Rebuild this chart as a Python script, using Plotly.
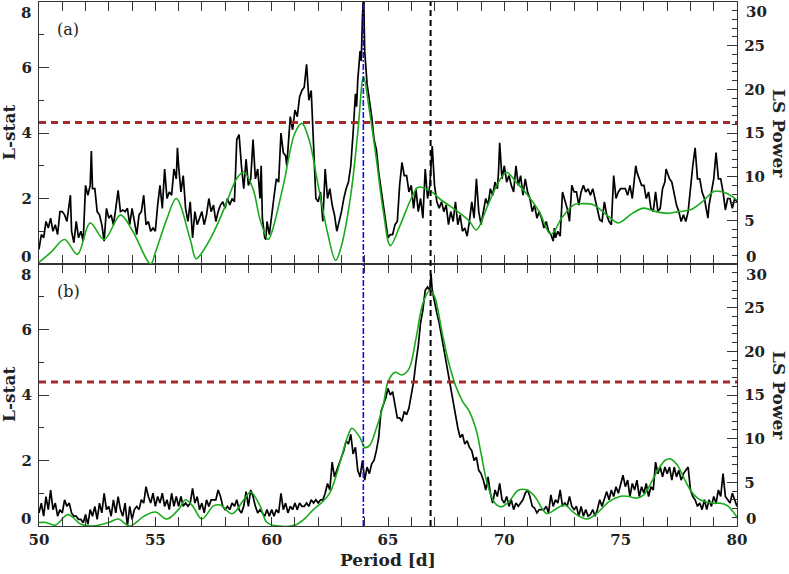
import plotly.graph_objects as go

# ---------------- data ----------------
period_a = [50.0,50.1,50.2,50.3,50.4,50.5,50.6,50.7,50.8,50.9,51.0,51.1,51.2,51.35,51.4,51.5,51.6,51.7,51.8,51.9,
            52.0,52.1,52.2,52.25,52.3,52.4,52.5,52.6,52.7,52.8,52.9,53.0,53.1,53.2,53.3,53.4,53.5,53.6,53.7,53.8,53.9,
            54.0,54.1,54.2,54.3,54.4,54.5,54.6,54.7,54.8,54.9,55.0,55.1,55.2,55.3,55.4,55.5,55.6,55.7,55.8,55.9,55.95,
            56.0,56.1,56.2,56.3,56.4,56.5,56.6,56.7,56.8,56.9,57.0,57.1,57.2,57.3,57.4,57.5,57.6,57.7,57.8,57.9,
            58.0,58.1,58.2,58.3,58.4,58.5,58.6,58.7,58.8,58.9,59.0,59.1,59.2,59.3,59.4,59.5,59.55,59.6,59.7,59.75,59.8,59.9,
            60.0,60.1,60.2,60.3,60.4,60.5,60.6,60.65,60.7,60.8,60.9,61.0,61.1,61.2,61.3,61.4,61.5,61.6,61.7,61.75,61.8,61.9,
            62.0,62.1,62.2,62.3,62.4,62.5,62.6,62.7,62.8,62.9,63.0,63.1,63.2,63.3,63.4,63.5,63.6,63.65,63.7,63.8,63.85,63.9,63.95,
            64.0,64.05,64.1,64.2,64.3,64.4,64.5,64.6,64.7,64.8,64.9,65.0,65.1,65.2,65.3,65.4,65.5,65.6,65.7,65.8,65.9,
            66.0,66.1,66.2,66.3,66.4,66.5,66.6,66.7,66.8,66.9,67.0,67.1,67.2,67.3,67.4,67.5,67.6,67.7,67.8,67.9,
            68.0,68.1,68.2,68.3,68.4,68.5,68.6,68.7,68.8,68.9,69.0,69.1,69.2,69.3,69.4,69.5,69.6,69.7,69.75,69.8,69.9,
            70.0,70.1,70.2,70.3,70.4,70.5,70.6,70.7,70.8,70.9,71.0,71.1,71.2,71.3,71.4,71.5,71.6,71.7,71.8,71.9,
            72.0,72.1,72.15,72.2,72.3,72.4,72.5,72.6,72.7,72.8,72.9,73.0,73.1,73.2,73.3,73.4,73.5,73.6,73.7,73.8,73.9,
            74.0,74.1,74.2,74.3,74.4,74.5,74.6,74.7,74.8,74.9,75.0,75.1,75.2,75.3,75.4,75.5,75.6,75.65,75.7,75.8,75.9,
            76.0,76.1,76.2,76.3,76.4,76.5,76.6,76.7,76.8,76.9,76.95,77.0,77.1,77.2,77.3,77.4,77.5,77.6,77.7,77.8,77.9,
            78.0,78.1,78.2,78.3,78.4,78.5,78.6,78.7,78.75,78.8,78.9,79.0,79.1,79.2,79.3,79.4,79.5,79.6,79.7,79.8,79.9,80.0]
lstat_a = [0.45,0.9,0.8,1.3,1.1,1.4,1.0,1.2,0.9,1.6,1.6,1.5,1.3,2.1,1.0,0.65,1.3,0.8,1.0,0.7,
           2.4,2.1,2.4,3.45,2.3,2.3,1.6,1.5,1.2,0.7,1.7,1.4,1.5,1.2,1.7,2.25,1.6,1.65,1.6,1.7,1.2,
           1.7,1.3,0.9,1.5,1.6,2.1,1.2,1.3,1.0,1.1,1.0,1.8,2.4,1.7,2.9,2.0,2.2,2.1,2.9,2.6,3.55,
           3.0,2.2,2.7,1.7,1.3,1.9,0.8,1.6,1.2,1.4,1.6,1.2,1.5,2.0,1.6,1.8,1.3,1.6,1.8,1.9,
           1.7,2.0,1.8,2.0,1.9,3.8,3.95,3.0,2.3,3.2,2.4,2.6,3.8,2.6,2.9,2.0,3.0,1.4,0.8,0.75,1.3,0.9,
           1.55,2.05,2.6,2.5,4.0,3.4,3.3,3.0,3.5,4.5,4.1,4.7,4.5,5.1,5.3,5.4,6.1,5.0,5.3,4.5,3.2,2.0,
           1.9,2.2,1.3,2.9,2.0,2.3,1.8,1.5,1.0,1.3,1.6,2.0,2.3,2.5,3.0,4.0,5.2,4.8,5.6,6.5,6.2,7.5,8.3,
           6.5,5.8,5.5,5.0,4.5,3.8,3.5,2.8,2.3,1.8,1.3,0.8,0.9,0.9,1.2,1.3,2.4,3.1,2.7,2.7,2.2,
           2.4,1.7,2.3,1.6,2.0,1.4,2.9,2.0,2.4,3.6,2.4,1.9,1.7,1.9,1.6,1.8,1.2,1.6,1.3,1.9,
           1.2,1.5,1.0,1.1,0.85,1.3,1.9,1.4,2.6,1.6,1.2,1.6,2.0,1.8,2.3,2.1,2.5,2.3,2.8,3.7,2.6,
           3.0,2.5,2.7,2.4,2.2,3.0,2.4,2.7,2.1,2.6,2.2,2.0,1.6,1.8,1.4,1.6,1.4,1.1,1.3,1.0,
           0.9,0.7,1.1,0.8,1.0,0.85,2.2,1.9,1.7,1.3,2.4,2.2,2.2,1.8,2.2,2.4,2.2,2.3,2.1,2.3,2.0,
           1.6,1.35,1.3,1.9,1.5,1.3,1.2,2.7,2.0,2.2,2.3,2.3,2.3,2.1,2.4,2.0,2.8,3.0,2.8,2.6,2.4,
           2.4,2.0,2.2,1.7,1.6,2.2,1.6,1.7,2.3,2.5,2.9,2.8,2.6,2.5,2.1,1.8,1.6,1.3,1.5,1.3,1.6,
           2.4,3.0,3.55,2.6,2.6,2.2,2.0,1.5,1.4,1.8,2.2,2.6,3.4,2.6,2.6,2.2,1.65,2.0,2.0,1.7,2.0,1.9]

period_ls_a = [50.0,50.5,51.1,51.65,52.2,52.8,53.5,54.0,54.8,55.0,55.5,55.9,56.5,56.75,57.0,57.5,58.0,58.5,58.8,59.2,
               59.5,59.85,60.0,60.5,61.0,61.3,61.6,62.0,62.4,62.75,63.0,63.4,63.7,63.95,64.2,64.5,64.8,65.1,65.5,
               66.0,66.3,66.8,67.3,68.0,68.5,68.8,69.3,69.8,70.1,70.5,71.0,71.5,72.0,72.5,73.0,73.3,73.8,74.5,74.9,
               75.5,76.0,76.5,77.0,77.5,78.0,78.5,79.0,79.3,79.7,80.0]
ls_power_a = [0.2,1.3,2.8,1.1,4.7,2.8,5.6,3.9,0.0,1.3,5.2,7.5,2.8,0.6,1.3,3.6,6.6,9.8,10.5,8.6,
              5.1,2.8,3.6,9.0,15.0,16.1,14.3,9.0,3.6,0.4,2.1,7.9,15.0,21.4,17.6,12.0,6.0,2.1,4.3,
              7.5,8.8,8.4,7.3,6.0,4.9,3.9,6.8,9.6,10.5,9.4,7.9,6.0,3.4,5.4,6.8,6.9,6.8,5.4,4.7,
              5.8,6.4,6.0,5.8,6.0,6.2,7.1,8.3,8.3,7.9,7.3]

period_b = [50.0,50.1,50.2,50.3,50.4,50.5,50.6,50.7,50.8,50.9,51.0,51.1,51.2,51.3,51.4,51.5,51.6,51.7,51.8,51.9,
            52.0,52.1,52.2,52.3,52.4,52.5,52.6,52.7,52.8,52.9,53.0,53.1,53.2,53.3,53.4,53.5,53.6,53.7,53.8,53.9,
            54.0,54.1,54.2,54.3,54.4,54.5,54.6,54.7,54.8,54.9,55.0,55.1,55.2,55.3,55.4,55.5,55.6,55.7,55.8,55.9,
            56.0,56.1,56.2,56.3,56.4,56.5,56.6,56.7,56.8,56.9,57.0,57.1,57.2,57.3,57.4,57.5,57.6,57.7,57.8,57.9,
            58.0,58.1,58.2,58.3,58.4,58.5,58.6,58.7,58.8,58.9,59.0,59.1,59.2,59.3,59.4,59.5,59.6,59.7,59.8,59.9,
            60.0,60.1,60.2,60.3,60.4,60.5,60.6,60.7,60.8,60.9,61.0,61.1,61.2,61.3,61.4,61.5,61.6,61.7,61.8,61.9,
            62.0,62.1,62.2,62.3,62.4,62.5,62.6,62.7,62.8,62.9,63.0,63.1,63.2,63.3,63.4,63.5,63.6,63.7,63.8,63.9,
            64.0,64.1,64.2,64.3,64.4,64.5,64.6,64.7,64.8,64.9,65.0,65.1,65.2,65.3,65.4,65.5,65.6,65.7,65.8,65.9,
            66.0,66.1,66.2,66.3,66.4,66.5,66.6,66.7,66.8,66.85,66.9,67.0,67.1,67.2,67.3,67.4,67.5,67.6,67.7,67.8,67.9,
            68.0,68.1,68.2,68.3,68.4,68.5,68.6,68.7,68.8,68.9,69.0,69.1,69.2,69.3,69.4,69.5,69.6,69.7,69.8,69.9,
            70.0,70.1,70.2,70.3,70.4,70.5,70.6,70.7,70.8,70.9,71.0,71.1,71.2,71.3,71.4,71.5,71.6,71.7,71.8,71.9,
            72.0,72.1,72.2,72.3,72.4,72.5,72.6,72.7,72.8,72.9,73.0,73.1,73.2,73.3,73.4,73.5,73.6,73.7,73.8,73.9,
            74.0,74.1,74.2,74.3,74.4,74.5,74.6,74.7,74.8,74.9,75.0,75.1,75.2,75.3,75.4,75.5,75.6,75.7,75.8,75.9,
            76.0,76.1,76.2,76.3,76.4,76.5,76.6,76.7,76.8,76.9,77.0,77.1,77.2,77.3,77.4,77.5,77.6,77.7,77.8,77.9,
            78.0,78.1,78.2,78.3,78.4,78.5,78.6,78.7,78.8,78.9,79.0,79.1,79.2,79.3,79.4,79.5,79.6,79.7,79.8,79.9,80.0]
lstat_b = [0.4,0.7,0.3,0.9,0.5,1.1,0.5,0.7,0.3,0.5,0.4,0.8,0.6,0.7,0.4,0.3,0.3,0.2,0.2,0.1,
           0.35,0.05,0.5,0.3,0.6,0.2,0.7,0.4,1.0,0.5,0.6,0.3,0.8,0.4,0.9,0.5,0.3,0.7,0.0,0.6,
           0.2,0.5,0.6,0.5,0.8,0.7,1.2,0.9,0.7,1.0,0.6,0.9,0.7,1.0,0.6,0.8,0.5,1.0,0.6,0.9,
           0.6,0.9,0.6,0.7,0.6,0.7,1.15,0.7,0.9,0.5,0.7,0.4,0.8,0.6,0.8,0.8,0.8,1.1,0.9,0.6,
           0.5,0.6,0.5,0.7,0.6,0.8,0.5,0.4,0.6,1.05,0.6,1.1,0.9,0.6,0.4,0.5,0.4,0.3,0.5,0.3,
           0.5,0.3,0.5,0.4,1.0,0.5,0.7,0.4,0.6,0.5,0.7,0.5,0.7,0.6,0.6,0.7,0.6,0.8,0.7,0.8,
           0.7,0.8,0.8,1.0,1.3,1.1,1.95,1.5,1.7,1.9,2.1,2.3,2.6,2.5,2.8,2.2,2.4,1.7,1.5,2.0,
           1.4,1.8,1.6,1.9,2.0,2.3,2.7,3.5,3.7,3.9,4.2,4.0,4.1,3.7,3.3,3.3,3.2,3.5,3.4,3.6,
           4.0,4.4,5.0,5.5,6.2,6.6,7.2,7.3,7.2,7.7,7.2,6.8,6.5,6.2,5.8,5.3,5.0,4.6,4.2,3.7,3.3,
           3.0,2.7,2.8,2.5,2.6,2.4,2.3,2.0,2.1,1.7,1.6,1.4,1.1,1.5,1.0,0.7,1.1,0.9,1.3,0.8,
           0.7,0.9,0.6,0.8,0.5,0.7,0.6,0.7,0.8,1.0,1.1,0.9,0.6,0.55,0.4,0.5,0.5,0.5,0.6,0.4,
           0.95,0.6,0.8,0.7,1.1,0.6,0.7,0.6,0.9,0.6,0.5,0.6,0.3,0.6,0.3,0.5,0.3,0.35,0.5,0.3,
           0.5,0.8,0.6,0.8,1.05,0.8,1.1,0.9,1.2,1.0,1.3,1.55,1.2,1.4,0.9,1.3,1.1,1.4,0.9,1.2,
           1.0,1.3,0.9,1.2,1.1,1.95,1.6,1.8,1.5,1.8,1.6,1.8,1.4,1.8,1.5,1.7,1.4,1.6,1.7,1.8,
           1.1,0.9,0.8,0.6,0.7,0.5,0.8,0.5,0.8,0.6,0.9,0.7,1.1,0.9,1.6,0.9,0.8,0.7,1.0,0.8,0.6]

period_ls_b = [50.0,50.3,50.7,51.25,51.8,52.3,53.0,53.4,53.9,54.5,55.0,55.5,56.0,56.3,56.6,57.0,57.5,57.8,58.3,58.8,
               59.1,59.5,59.8,60.3,61.0,61.4,61.8,62.2,62.5,62.8,63.0,63.3,63.45,63.8,64.0,64.2,64.5,64.8,65.0,65.3,
               65.6,65.9,66.2,66.5,66.8,67.0,67.3,67.6,67.9,68.2,68.5,68.8,69.0,69.3,69.6,69.85,70.2,70.6,71.0,71.3,
               71.7,71.85,72.3,72.6,73.0,73.55,74.0,74.5,75.0,75.3,75.7,76.0,76.3,76.6,76.9,77.1,77.4,77.7,78.0,78.3,
               78.6,79.0,79.3,79.6,80.0]
ls_power_b = [0.4,0.4,0.1,1.3,0.2,0.0,0.4,0.8,0.0,1.1,1.6,0.8,1.9,3.0,2.3,0.8,2.3,2.4,1.4,3.0,
              3.9,2.3,0.4,0.0,0.1,0.8,1.9,2.8,3.8,6.0,7.9,10.5,11.2,10.1,9.0,9.2,11.2,13.9,16.5,17.6,
              17.3,18.0,21.4,25.5,27.0,26.3,22.5,18.8,16.1,14.3,13.1,10.9,8.3,4.5,2.6,2.2,2.8,4.1,4.1,3.4,
              1.7,1.4,2.1,2.4,1.5,0.8,1.5,2.8,3.4,3.4,3.2,3.6,4.9,6.4,7.5,7.7,7.1,5.6,4.1,3.2,
              2.8,2.6,2.6,2.3,1.0]

threshold_a = 4.32
threshold_b = 4.40
period_blue = 63.94
period_black = 66.83

# ---------------- figure ----------------
W, H = 789, 574
ML, MR, MT, MB = 39, 52, 2, 48
PW, PH = W - ML - MR, H - MT - MB

def px(xp):
    return (xp - ML) / PW

def py(yp):
    return (H - MB - yp) / PH

FONT = "DejaVu Serif"
tickfont = dict(family=FONT, size=15, color="#222", weight="bold")

fig = go.Figure()
fig.add_trace(go.Scatter(x=period_b, y=lstat_b, mode="lines", line=dict(color="black", width=1.7),
                         xaxis="x", yaxis="y", showlegend=False))
fig.add_trace(go.Scatter(x=period_ls_b, y=ls_power_b, mode="lines", line=dict(color="#1aab1a", width=1.6, shape="spline", smoothing=1.0),
                         xaxis="x", yaxis="y2", showlegend=False))
fig.add_trace(go.Scatter(x=period_a, y=lstat_a, mode="lines", line=dict(color="black", width=1.7),
                         xaxis="x2", yaxis="y3", showlegend=False))
fig.add_trace(go.Scatter(x=period_ls_a, y=ls_power_a, mode="lines", line=dict(color="#1aab1a", width=1.6, shape="spline", smoothing=1.0),
                         xaxis="x2", yaxis="y4", showlegend=False))

axcol = "#333"
xcommon = dict(range=[50, 80], showline=True, linecolor=axcol, linewidth=1.3, mirror="allticks",
               ticks="inside", ticklen=9, tickcolor=axcol, tickwidth=1.2, dtick=5, tick0=50,
               minor=dict(dtick=1, tick0=50, ticks="inside", ticklen=9, tickcolor=axcol, tickwidth=1.2),
               showgrid=False, zeroline=False, automargin=False)
lcommon = dict(range=[0, 8], showline=True, linecolor=axcol, linewidth=1.3, ticks="inside", ticklen=10,
               tickcolor=axcol, tickwidth=1.2, tickmode="array", tickvals=[0, 2, 4, 6, 8],
               ticktext=["", "2", "4", "6", ""], ticklabelstandoff=3,
               minor=dict(tickmode="linear", tick0=0, dtick=1, ticks="inside", ticklen=5, tickcolor=axcol, tickwidth=1.2),
               showgrid=False, zeroline=False, tickfont=tickfont, automargin=False)
rcommon = dict(range=[0, 30], showline=True, linecolor=axcol, linewidth=1.3, ticks="inside", ticklen=10,
               tickcolor=axcol, tickwidth=1.2, tickmode="array", tickvals=[0, 5, 10, 15, 20, 25, 30],
               ticktext=["", "5", "10", "15", "20", "25", ""], ticklabelstandoff=3,
               minor=dict(tickmode="linear", tick0=0, dtick=1, ticks="inside", ticklen=5, tickcolor=axcol, tickwidth=1.2),
               showgrid=False, zeroline=False, tickfont=tickfont, side="right", automargin=False)

fig.update_layout(
    template="none",
    width=W, height=H, margin=dict(l=ML, r=MR, t=MT, b=MB, autoexpand=False),
    paper_bgcolor="white", plot_bgcolor="white",
    xaxis=dict(domain=[0, 1], anchor="y", tickfont=tickfont, **xcommon),
    xaxis2=dict(domain=[0, 1], anchor="y3", matches="x", showticklabels=False, **xcommon),
    yaxis=dict(domain=[0, 0.5], anchor="x", **lcommon),
    yaxis2=dict(overlaying="y", anchor="x", **rcommon),
    yaxis3=dict(domain=[0.5, 1], anchor="x2", **lcommon),
    yaxis4=dict(overlaying="y3", anchor="x2", **rcommon),
)

shapes = [
    dict(type="line", xref="paper", x0=0, x1=1, yref="y3", y0=threshold_a, y1=threshold_a,
         line=dict(color="#a52a2a", width=3, dash="7px,5px"), layer="above"),
    dict(type="line", xref="paper", x0=0, x1=1, yref="y", y0=threshold_b, y1=threshold_b,
         line=dict(color="#a52a2a", width=3, dash="7px,5px"), layer="above"),
    dict(type="line", xref="x", x0=period_blue, x1=period_blue, yref="paper", y0=0, y1=1,
         line=dict(color="#1010ee", width=1.6, dash="6px,2px,2px,2px"), layer="above"),
    dict(type="line", xref="x", x0=period_black, x1=period_black, yref="paper", y0=0, y1=1,
         line=dict(color="black", width=2, dash="6px,4px"), layer="above"),
]
fig.update_layout(shapes=shapes)

labfont = dict(family=FONT, size=17, color="#222", weight="bold")
ann = []
# axis titles
for yc in (133, 395):
    ann.append(dict(text="L-stat", xref="paper", yref="paper", x=px(9), y=py(yc), showarrow=False,
                    textangle=-90, font=labfont, xanchor="center", yanchor="middle"))
    ann.append(dict(text="LS Power", xref="paper", yref="paper", x=px(779), y=py(yc), showarrow=False,
                    textangle=90, font=labfont, xanchor="center", yanchor="middle"))
ann.append(dict(text="Period [d]", xref="paper", yref="paper", x=px(388), y=py(560), showarrow=False,
                font=labfont, xanchor="center", yanchor="middle"))
ann.append(dict(text="(a)", xref="paper", yref="paper", x=px(55), y=py(30), showarrow=False,
                font=dict(family=FONT, size=16, color="#222"), xanchor="left", yanchor="middle"))
ann.append(dict(text="(b)", xref="paper", yref="paper", x=px(55), y=py(291), showarrow=False,
                font=dict(family=FONT, size=16, color="#222"), xanchor="left", yanchor="middle"))
# end tick labels shifted inward
for txt, yc in (("8", 13), ("0", 256), ("8", 274), ("0", 518)):
    ann.append(dict(text=txt, xref="paper", yref="paper", x=px(33), y=py(yc), showarrow=False,
                    font=tickfont, xanchor="right", yanchor="middle", height=13))
for txt, yc in (("30", 12), ("0", 256), ("30", 274), ("0", 518)):
    ann.append(dict(text=txt, xref="paper", yref="paper", x=px(744), y=py(yc), showarrow=False,
                    font=tickfont, xanchor="left", yanchor="middle", height=13))
fig.update_layout(annotations=ann)

fig.write_html("out.html", config={"displayModeBar": False},
               post_script="document.body.style.margin='0px';document.body.style.padding='0px';")
